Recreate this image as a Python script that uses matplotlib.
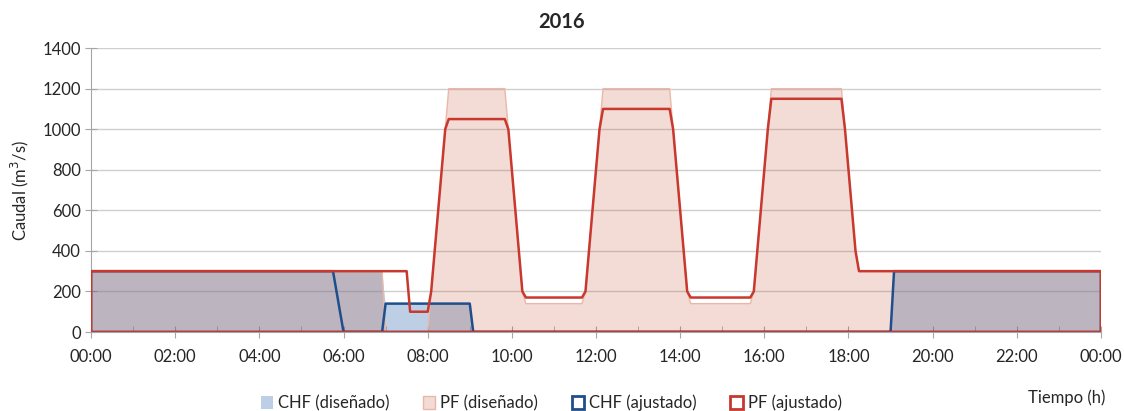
import matplotlib
matplotlib.use("Agg")
import matplotlib.pyplot as plt
from matplotlib.patches import Patch
from matplotlib.ticker import MultipleLocator, FuncFormatter

plt.rcParams["font.family"] = ["Lato", "DejaVu Sans"]

# tiempo en horas
t_chf_dis = [0, 6.917, 7.0, 9.0, 9.083, 19.0, 19.083, 24]
chf_dis = [300, 300, 140, 140, 0, 0, 300, 300]

t_pf_dis = [0, 6.917, 7.0, 8.0, 8.5, 9.833, 10.25, 10.333, 11.667, 11.75, 12.167,
            13.75, 14.167, 14.25, 15.667, 15.75, 16.167, 17.833, 18.167, 18.25, 24]
pf_dis = [300, 300, 0, 0, 1200, 1200, 200, 140, 140, 200, 1200,
          1200, 200, 140, 140, 200, 1200, 1200, 400, 300, 300]

t_chf_adj = [0, 5.75, 6.0, 6.917, 7.0, 9.0, 9.083, 19.0, 19.083, 24]
chf_adj = [300, 300, 0, 0, 140, 140, 0, 0, 300, 300]

t_pf_adj = [0, 7.5, 7.583, 8.0, 8.083, 8.417, 8.5, 9.833, 9.917, 10.25, 10.333,
            11.667, 11.75, 12.083, 12.167, 13.75, 13.833, 14.167, 14.25,
            15.667, 15.75, 16.083, 16.167, 17.833, 17.917, 18.167, 18.25, 24]
pf_adj = [300, 300, 100, 100, 200, 1000, 1050, 1050, 1000, 200, 170,
          170, 200, 1000, 1100, 1100, 1000, 200, 170,
          170, 200, 1000, 1150, 1150, 1000, 400, 300, 300]

labels = ["CHF (diseñado)", "PF (diseñado)", "CHF (ajustado)", "PF (ajustado)"]

c_blue = "#4F81BD"
c_pink = "#BE502D"
c_dblue = "#1F4E8C"
c_red = "#C8382E"
c_text = "#262626"

fig = plt.figure(figsize=(11.24, 4.11), dpi=100)
ax = fig.add_axes([0.081, 0.1922, 0.8985, 0.6908])

ax.fill_between(t_chf_dis, chf_dis, 0, facecolor=c_blue, alpha=0.38, lw=0, zorder=2)
ax.fill_between(t_pf_dis, pf_dis, 0, facecolor=c_pink, alpha=0.2, lw=0, zorder=3)
ax.plot(t_pf_dis, pf_dis, color="#EAB8AA", lw=1, zorder=3)
ax.fill_between(t_chf_adj, chf_adj, 0, facecolor="none", edgecolor=c_dblue, lw=1.8, zorder=4)
ax.fill_between(t_pf_adj, pf_adj, 0, facecolor="none", edgecolor=c_red, lw=1.8, zorder=5)

ax.set_xlim(0, 24)
ax.set_ylim(0, 1400)
ax.xaxis.set_major_locator(MultipleLocator(2))
ax.xaxis.set_minor_locator(MultipleLocator(1))
ax.xaxis.set_major_formatter(FuncFormatter(lambda v, p: f"{int(v) % 24:02d}:00"))
ax.yaxis.set_major_locator(MultipleLocator(200))

ax.grid(axis="y", color="#D0CFCC", lw=1, zorder=0)
ax.set_axisbelow(True)
for s in ["top", "right"]:
    ax.spines[s].set_visible(False)
for s in ["left", "bottom"]:
    ax.spines[s].set_color("#A6A6A6")
ax.tick_params(axis="both", which="major", direction="inout", length=8, color="#A6A6A6",
               labelsize=12, labelcolor=c_text)
ax.tick_params(axis="x", which="major", pad=8)
ax.tick_params(axis="x", which="minor", direction="in", length=4, color="#A6A6A6")

ax.set_ylabel("Caudal (m$^3$/s)", fontsize=12, color=c_text, labelpad=8)
fig.text(562 / 1124, 1 - 22 / 411, "2016", ha="center", va="center",
         fontsize=14.5, fontweight="bold", color=c_text)
fig.text(1105 / 1124, 1 - 398 / 411, "Tiempo (h)", ha="right", va="center",
         fontsize=12, color=c_text)

handles = [
    Patch(facecolor=c_blue, alpha=0.38, edgecolor="none"),
    Patch(facecolor="#F2DCD5", edgecolor="#EAB8AA", lw=1),
    Patch(facecolor="none", edgecolor=c_dblue, lw=2),
    Patch(facecolor="none", edgecolor=c_red, lw=2),
]
fig.legend(handles, labels, loc="center", bbox_to_anchor=(551 / 1124, 1 - 403 / 411),
           ncol=4, frameon=False, fontsize=12, handlelength=0.75, handleheight=0.75,
           handletextpad=0.3, columnspacing=2.0, labelcolor=c_text)

fig.savefig("out.png", dpi=100)
